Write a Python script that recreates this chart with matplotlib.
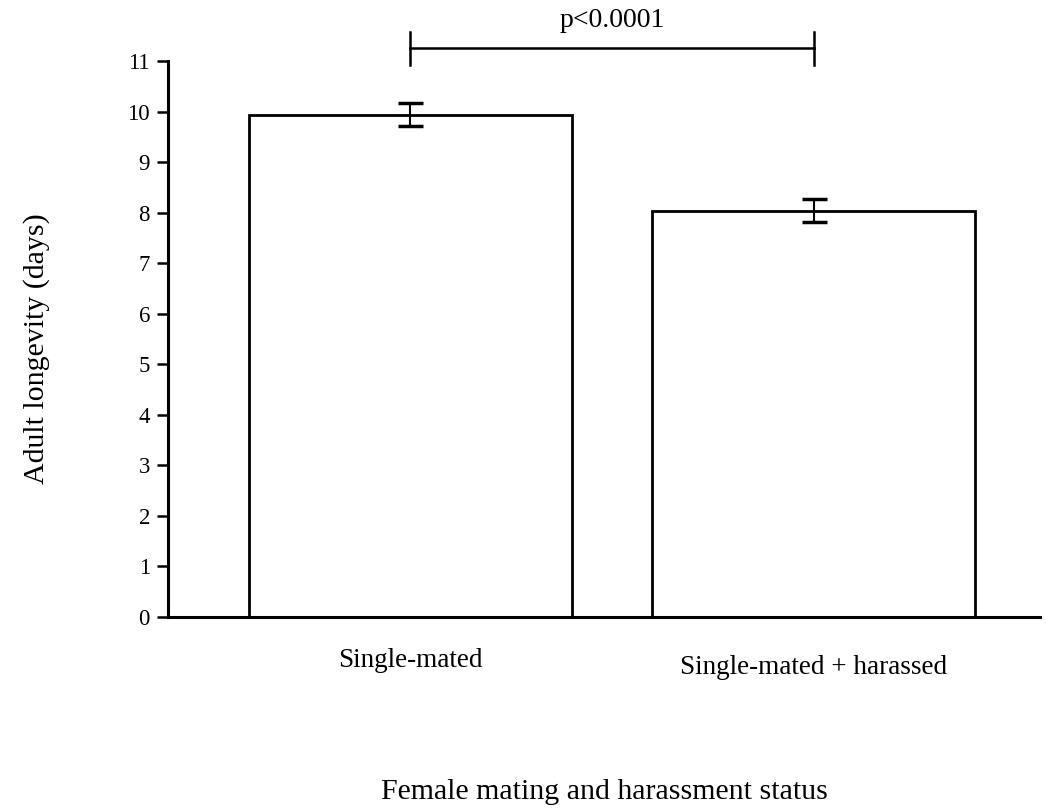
"""Bar chart: adult longevity of single-mated vs single-mated + harassed females."""
import matplotlib
matplotlib.use("Agg")
import matplotlib.pyplot as plt

groups = ["Single-mated", "Single-mated + harassed"]
longevity = [9.94, 8.04]
se = [0.23, 0.23]
yticks = list(range(0, 12))
p_label = "p<0.0001"

plt.rcParams["font.family"] = ["Liberation Serif", "DejaVu Serif"]

fig = plt.figure(figsize=(10.47, 8.11), dpi=100)
ax = fig.add_axes([0.1605, 0.2392, 0.8325, 0.6856])

x = list(range(len(groups)))
ax.bar(x, longevity, width=0.8, color="white", edgecolor="black", lw=2.0)
ax.errorbar(x, longevity, yerr=se, fmt="none", ecolor="black",
            elinewidth=1.5, capsize=9, capthick=2.5)

# significance bracket above the axes
yb = 11.25
ax.plot([x[0], x[1]], [yb, yb], color="black", lw=1.8, clip_on=False)
for xi in x:
    ax.plot([xi, xi], [yb - 0.32, yb + 0.32], color="black", lw=1.8, clip_on=False)
ax.text((x[0] + x[1]) / 2, yb + 0.3, p_label, ha="center", va="bottom", fontsize=20)

ax.set_xlim(-0.6, 1.56)
ax.set_ylim(0, 11)
ax.set_yticks(yticks)
ax.tick_params(axis="y", direction="out", length=8, width=1.8, labelsize=16.5, pad=5)
ax.set_xticks(x)
ax.set_xticklabels(groups, fontsize=19.5)
ax.tick_params(axis="x", length=0, pad=22)
for lbl, dy in zip(ax.get_xticklabels(), [0, -0.013]):
    lbl.set_y(dy)

ax.spines["top"].set_visible(False)
ax.spines["right"].set_visible(False)
ax.spines["left"].set_linewidth(2.2)
ax.spines["bottom"].set_linewidth(2.2)

fig.text(0.577, 0.024, "Female mating and harassment status", ha="center",
         va="center", fontsize=21.5)
fig.text(0.035, 0.57, "Adult longevity (days)", ha="center", va="center",
         rotation=90, fontsize=21.5)

fig.savefig("out.png", dpi=100)
